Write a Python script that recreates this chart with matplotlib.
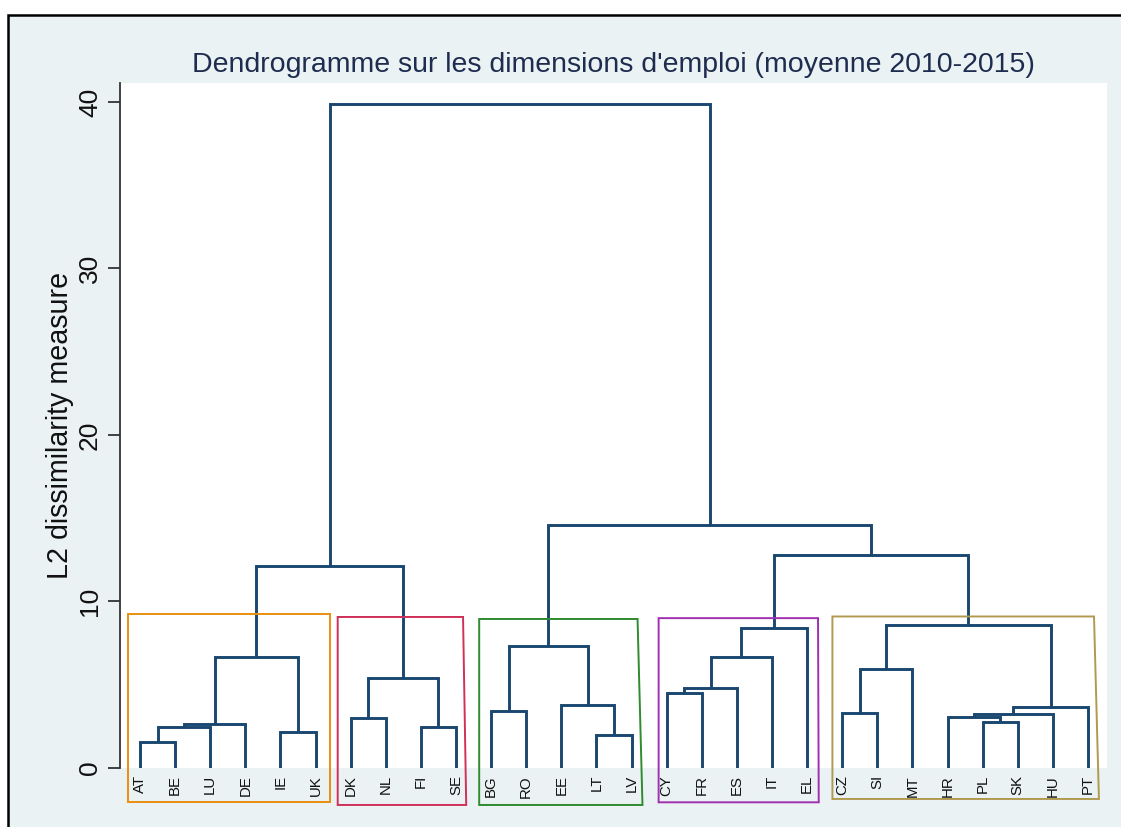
import matplotlib
matplotlib.use("Agg")
import matplotlib.pyplot as plt
from matplotlib.patches import Rectangle, Polygon

# ---------------- data ----------------
labels = ['AT', 'BE', 'LU', 'DE', 'IE', 'UK', 'DK', 'NL', 'FI', 'SE',
          'BG', 'RO', 'EE', 'LT', 'LV', 'CY', 'FR', 'ES', 'IT', 'EL',
          'CZ', 'SI', 'MT', 'HR', 'PL', 'SK', 'HU', 'PT']
# linkage: node ids 0..27 are leaves, new nodes numbered from 28
merge_left = [0, 28, 29, 4, 30, 6, 8, 33, 32, 10, 13, 12, 37, 15, 41, 42, 43,
              20, 45, 24, 23, 48, 49, 46, 44, 40, 36]
merge_right = [1, 2, 3, 5, 31, 7, 9, 34, 35, 11, 14, 38, 39, 16, 17, 18, 19,
               21, 22, 25, 47, 26, 27, 50, 51, 52, 53]
merge_height = [1.57, 2.48, 2.67, 2.16, 6.69, 3.02, 2.44, 5.39, 12.13,
                3.42, 1.96, 3.78, 7.35, 4.52, 4.78, 6.67, 8.39,
                3.28, 5.93, 2.78, 3.04, 3.22, 3.68, 8.59, 12.79, 14.59, 39.88]

# cluster groups (first leaf, last leaf) and their box colours
group_first = [0, 6, 10, 15, 20]
group_last = [5, 9, 14, 19, 27]
group_colors = ['#E8900F', '#D0305A', '#2E8B2E', '#A030B0', '#B09A50']
group_top = [9.25, 9.07, 8.95, 9.0, 9.1]
group_bottom = [-2.04, -2.22, -2.22, -2.06, -1.86]
group_lpad = [0.34, 0.37, 0.34, 0.23, 0.28]
group_rpad_top = [0.4, 0.2, 0.17, 0.31, 0.17]
group_rpad_bot = [0.4, 0.29, 0.31, 0.33, 0.31]

title = "Dendrogramme sur les dimensions d'emploi (moyenne 2010-2015)"
ylabel = "L2 dissimilarity measure"
yticks = [0, 10, 20, 30, 40]

# ---------------- figure ----------------
W, H = 1121, 827
fig = plt.figure(figsize=(W / 100, H / 100), dpi=100)
fig.patch.set_facecolor('white')
bg = '#EAF2F3'
# graph region with black border (cut at right/bottom)
fig.add_artist(Rectangle((8 / W, -0.01), 1.02, 1 - 15 / H + 0.01,
                         transform=fig.transFigure, facecolor=bg,
                         edgecolor='black', linewidth=1.8, zorder=0))

ax_left, ax_right = 120 / W, 1107 / W
ax_bot, ax_top = 1 - 768 / H, 1 - 83 / H
ax = fig.add_axes([ax_left, ax_bot, ax_right - ax_left, ax_top - ax_bot])
ax.set_facecolor('white')

n = len(labels)
xpos = {i: float(i + 1) for i in range(n)}
ypos = {i: 0.0 for i in range(n)}
line_color = '#1A476F'
for k, (a, b, h) in enumerate(zip(merge_left, merge_right, merge_height)):
    node = n + k
    xa, xb = xpos[a], xpos[b]
    ax.plot([xa, xa, xb, xb], [ypos[a], h, h, ypos[b]], color=line_color,
            lw=2.1, solid_joinstyle='miter', solid_capstyle='butt', zorder=3)
    xpos[node] = (xa + xb) / 2
    ypos[node] = h

for f, l, c, t, bt, lp, rt, rb in zip(group_first, group_last, group_colors,
                                       group_top, group_bottom, group_lpad,
                                       group_rpad_top, group_rpad_bot):
    x0 = f + 1 - lp
    poly = Polygon([(x0, t), (l + 1 + rt, t), (l + 1 + rb, bt), (x0, bt)],
                   closed=True, fill=False, edgecolor=c, lw=1.4,
                   clip_on=False, zorder=4)
    ax.add_patch(poly)

ax.set_xlim(0.43, 28.54)
ax.set_ylim(0, 41.14)
ax.set_xticks(range(1, n + 1))
ax.set_xticklabels(labels, rotation=90, fontsize=10.8, family='Liberation Sans',
                   color='#111111')
ax.tick_params(axis='x', length=0, pad=5)
ax.set_yticks(yticks)
ax.set_yticklabels([str(v) for v in yticks], rotation=90, va='center',
                   fontsize=19, family='Liberation Sans', color='#111111')
ax.tick_params(axis='y', length=9, width=1.3, color='#333333', pad=4)
for s in ['top', 'right', 'bottom']:
    ax.spines[s].set_visible(False)
ax.spines['left'].set_color('#333333')
ax.spines['left'].set_linewidth(1.3)

ax.set_ylabel(ylabel, fontsize=20.6, family='Liberation Sans', color='#111111',
              labelpad=3)
fig.text((ax_left + ax_right) / 2, 1 - 65 / H, title, ha='center', va='center',
         fontsize=20.5, family='Liberation Sans', color='#1E2D4F')

fig.savefig('out.png', dpi=100, facecolor=fig.get_facecolor())
